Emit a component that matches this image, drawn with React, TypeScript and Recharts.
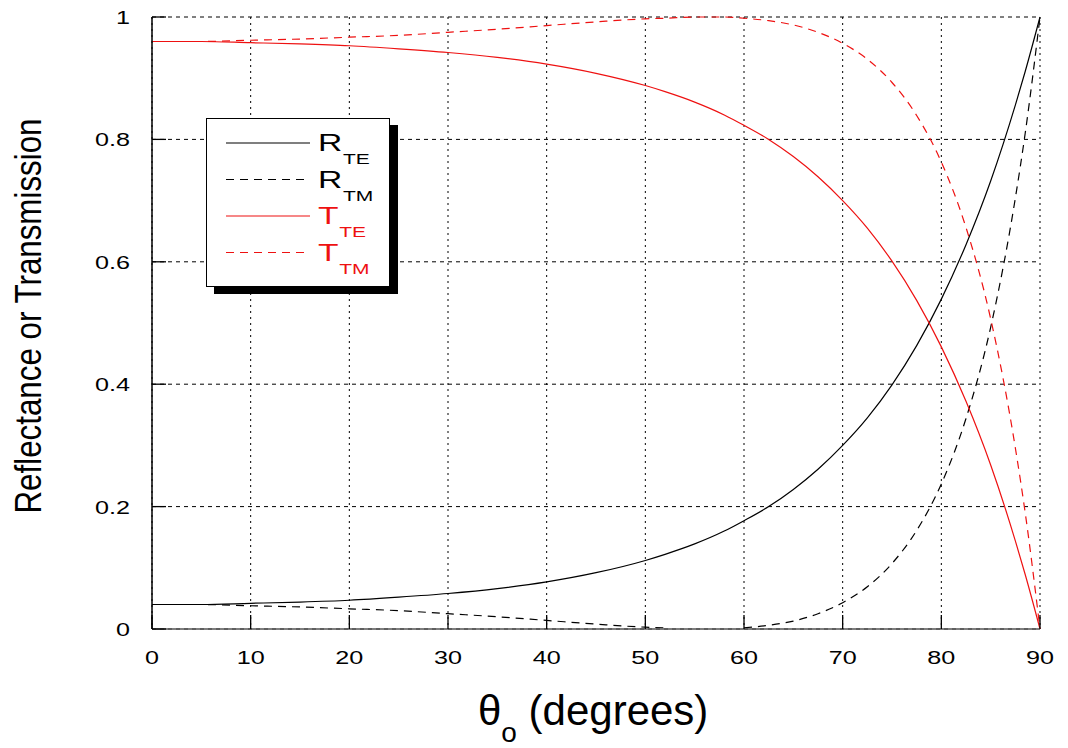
import React from "react";
import {
  LineChart,
  Line,
  XAxis,
  YAxis,
  CartesianGrid,
  Legend,
} from "recharts";

// angle of incidence (degrees)
const angles = [0, 5, 10, 15, 20, 25, 30, 35, 40, 45, 50, 52, 55, 58, 60, 62.5, 65, 67.5, 70, 72.5, 75, 77.5, 80, 82.5, 85, 87.5, 88.5, 90];

const rTE = [0.040, 0.040, 0.042, 0.044, 0.047, 0.052, 0.058, 0.066, 0.077, 0.092, 0.112, 0.122, 0.139, 0.160, 0.177, 0.200, 0.228, 0.261, 0.300, 0.345, 0.399, 0.463, 0.539, 0.628, 0.732, 0.856, 0.911, 1.0];
const rTM = [0.040, 0.040, 0.038, 0.036, 0.033, 0.030, 0.025, 0.020, 0.014, 0.008, 0.003, 0.002, null, null, 0.002, 0.006, 0.013, 0.025, 0.043, 0.069, 0.107, 0.161, 0.237, 0.344, 0.493, 0.704, 0.810, 1.0];
const tTE = [0.960, 0.960, 0.958, 0.956, 0.953, 0.948, 0.942, 0.934, 0.923, 0.908, 0.888, 0.878, 0.861, 0.840, 0.823, 0.800, 0.772, 0.739, 0.700, 0.655, 0.601, 0.537, 0.461, 0.372, 0.268, 0.144, 0.089, 0.0];
const tTM = [0.960, 0.960, 0.962, 0.964, 0.967, 0.970, 0.975, 0.980, 0.986, 0.992, 0.997, 0.998, 1.0, 1.0, 0.998, 0.994, 0.987, 0.975, 0.957, 0.931, 0.893, 0.839, 0.763, 0.656, 0.507, 0.296, 0.190, 0.0];

const xTicks = [0, 10, 20, 30, 40, 50, 60, 70, 80, 90];
const yTicks = [0, 0.2, 0.4, 0.6, 0.8, 1];
const yTickLabels = ["0", "0.2", "0.4", "0.6", "0.8", "1"];

const series = [
  { key: "rTE", main: "R", sub: "TE", color: "#000000", dash: undefined as string | undefined },
  { key: "rTM", main: "R", sub: "TM", color: "#000000", dash: "8 6" },
  { key: "tTE", main: "T", sub: "TE", color: "#ee1111", dash: undefined as string | undefined },
  { key: "tTM", main: "T", sub: "TM", color: "#ee1111", dash: "8 6" },
];

const data = angles.map((a, i) => ({
  angle: a,
  rTE: rTE[i],
  rTM: rTM[i],
  tTE: tTE[i],
  tTM: tTM[i],
}));

const FONT = "'Liberation Sans', Arial, Helvetica, sans-serif";
const TICK_LEN = 14;

const BottomTick = (props: any) => {
  const { x, y, payload } = props;
  return (
    <g>
      <line x1={x} y1={y} x2={x} y2={y - TICK_LEN} stroke="#000" strokeWidth={1.3} />
      <text
        transform={`translate(${x},${y + 35}) scale(1.4,1)`}
        textAnchor="middle"
        fontSize={18}
        fontFamily={FONT}
        fill="#000"
      >
        {payload.value}
      </text>
    </g>
  );
};

const TopTick = (props: any) => {
  const { x, y } = props;
  return <line x1={x} y1={y} x2={x} y2={y + TICK_LEN} stroke="#000" strokeWidth={1.3} />;
};

const LeftTick = (props: any) => {
  const { x, y, payload } = props;
  const idx = yTicks.indexOf(payload.value);
  const label = idx >= 0 ? yTickLabels[idx] : String(payload.value);
  return (
    <g>
      <line x1={x} y1={y} x2={x + TICK_LEN} y2={y} stroke="#000" strokeWidth={1.3} />
      <text
        transform={`translate(${x - 22},${y + 7}) scale(1.4,1)`}
        textAnchor="end"
        fontSize={18}
        fontFamily={FONT}
        fill="#000"
      >
        {label}
      </text>
    </g>
  );
};

const RightTick = (props: any) => {
  const { x, y } = props;
  return <line x1={x} y1={y} x2={x - TICK_LEN} y2={y} stroke="#000" strokeWidth={1.3} />;
};

const XTitle = () => (
  <text x={478} y={725} fontSize={42} fontFamily={FONT} fill="#000">
    θ
    <tspan dy={17} fontSize={28}>o</tspan>
    <tspan dy={-17}> (degrees)</tspan>
  </text>
);

const YTitle = () => (
  <text
    transform="translate(41,316) rotate(-90)"
    textAnchor="middle"
    fontSize={36}
    fontFamily={FONT}
    fill="#000"
    textLength={395}
    lengthAdjust="spacingAndGlyphs"
  >
    Reflectance or Transmission
  </text>
);

const LegendBox = () => (
  <div
    style={{
      width: 184,
      height: 169,
      boxSizing: "border-box",
      border: "1.5px solid #000",
      background: "#fff",
      boxShadow: "8px 7px 0 #000",
    }}
  >
    <svg width={182} height={166} style={{ display: "block" }}>
      {series.map((s, i) => {
        const base = 32 + i * 36.5;
        return (
          <g key={s.key}>
            <line
              x1={19}
              x2={103}
              y1={base - 8}
              y2={base - 8}
              stroke={s.color}
              strokeWidth={1.2}
              strokeDasharray={s.dash}
            />
            <text
              transform={`translate(111,${base}) scale(1.4,1)`}
              fontSize={24}
              fontFamily={FONT}
              fill={s.color}
            >
              {s.main}
              <tspan dx={0.5} dy={13} fontSize={15}>{s.sub}</tspan>
            </text>
          </g>
        );
      })}
    </svg>
  </div>
);

export default function App() {
  return (
    <div style={{ position: "absolute", left: 0, top: 0, width: 1068, height: 748, background: "#fff" }}>
      <LineChart
        width={1068}
        height={748}
        data={data}
        margin={{ top: 17, right: 28, left: 0, bottom: 0 }}
      >
        <CartesianGrid
          xAxisId="b"
          yAxisId="l"
          horizontal={false}
          stroke="#000"
          strokeDasharray="2 4"
          strokeWidth={1}
        />
        <CartesianGrid
          xAxisId="b"
          yAxisId="l"
          vertical={false}
          stroke="#000"
          strokeDasharray="4 4"
          strokeWidth={1}
        />
        <XAxis
          xAxisId="b"
          dataKey="angle"
          type="number"
          domain={[0, 90]}
          ticks={xTicks}
          interval={0}
          height={119}
          tickSize={0}
          tickMargin={0}
          tickLine={false}
          axisLine={{ stroke: "#555", strokeWidth: 1.5 }}
          tick={<BottomTick />}
          label={<XTitle />}
        />
        <XAxis
          xAxisId="t"
          orientation="top"
          dataKey="angle"
          type="number"
          domain={[0, 90]}
          ticks={xTicks}
          interval={0}
          height={0}
          tickSize={0}
          tickMargin={0}
          tickLine={false}
          axisLine={{ stroke: "#000", strokeWidth: 1.5 }}
          tick={<TopTick />}
        />
        <YAxis
          yAxisId="l"
          type="number"
          domain={[0, 1]}
          ticks={yTicks}
          interval={0}
          width={152}
          tickSize={0}
          tickMargin={0}
          tickLine={false}
          axisLine={{ stroke: "#000", strokeWidth: 1.5 }}
          tick={<LeftTick />}
          label={<YTitle />}
        />
        <YAxis
          yAxisId="r"
          orientation="right"
          type="number"
          domain={[0, 1]}
          ticks={yTicks}
          interval={0}
          width={0}
          tickSize={0}
          tickMargin={0}
          tickLine={false}
          axisLine={{ stroke: "#000", strokeWidth: 1.5 }}
          tick={<RightTick />}
        />
        <Legend
          layout="vertical"
          align="center"
          verticalAlign="middle"
          content={<LegendBox />}
          wrapperStyle={{ left: 206, top: 118, width: 184, height: 169 }}
        />
        {series.map((s) => (
          <Line
            key={s.key}
            xAxisId="b"
            yAxisId="l"
            type="monotone"
            dataKey={s.key}
            stroke={s.color}
            strokeWidth={1.2}
            strokeDasharray={s.dash}
            dot={false}
            activeDot={false}
            connectNulls={false}
            isAnimationActive={false}
          />
        ))}
      </LineChart>
    </div>
  );
}
